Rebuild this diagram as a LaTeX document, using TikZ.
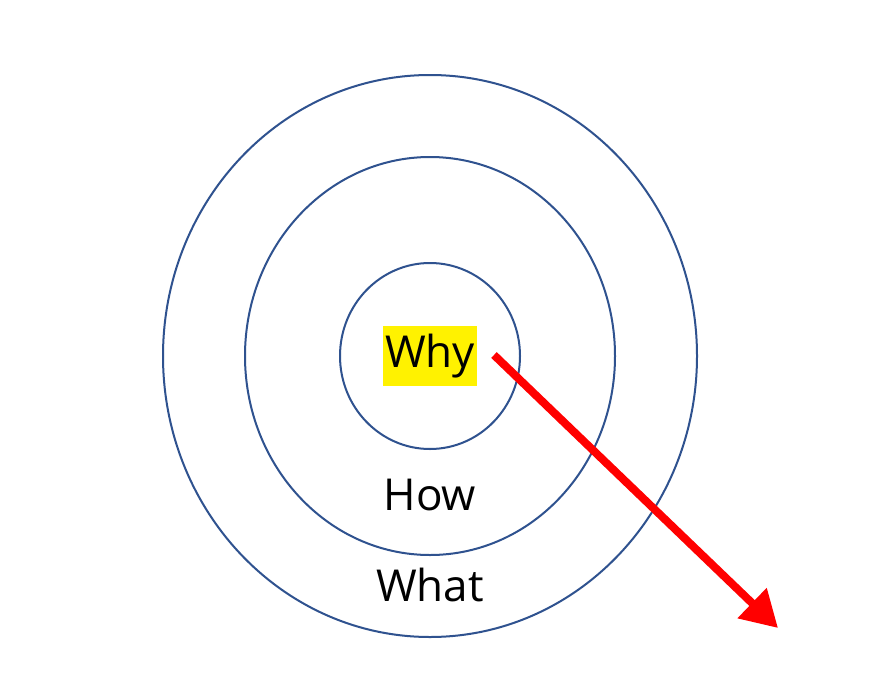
\documentclass[tikz,border=0pt]{standalone}
\usepackage{fontspec}
\setmainfont{Open Sans}
\usetikzlibrary{arrows.meta}
\begin{document}
\begin{tikzpicture}[x=1pt,y=-1pt,
  ring/.style={draw={rgb,255:red,47;green,82;blue,143},line width=2pt},
  lbl/.style={font=\fontsize{44}{50}\selectfont, inner sep=2pt}]
\useasboundingbox[fill=white] (0,0) rectangle (883,696);
\draw[ring] (430,356) ellipse [x radius=267, y radius=281];
\draw[ring] (430,356) ellipse [x radius=185, y radius=199];
\draw[ring] (430,356) ellipse [x radius=90, y radius=93];
\node[lbl, fill=yellow, minimum width=90, minimum height=60] (why) at (430,356) {Why};
\node[lbl] (how) at (430,495) {How};
\node[lbl] (what) at (430,585) {What};
\coordinate (tip) at (778,628);
\coordinate (start) at (494,355);
\draw[red, line width=8pt, -{Triangle[length=36pt,width=40pt]}] (start) -- (tip);
\end{tikzpicture}
\end{document}
